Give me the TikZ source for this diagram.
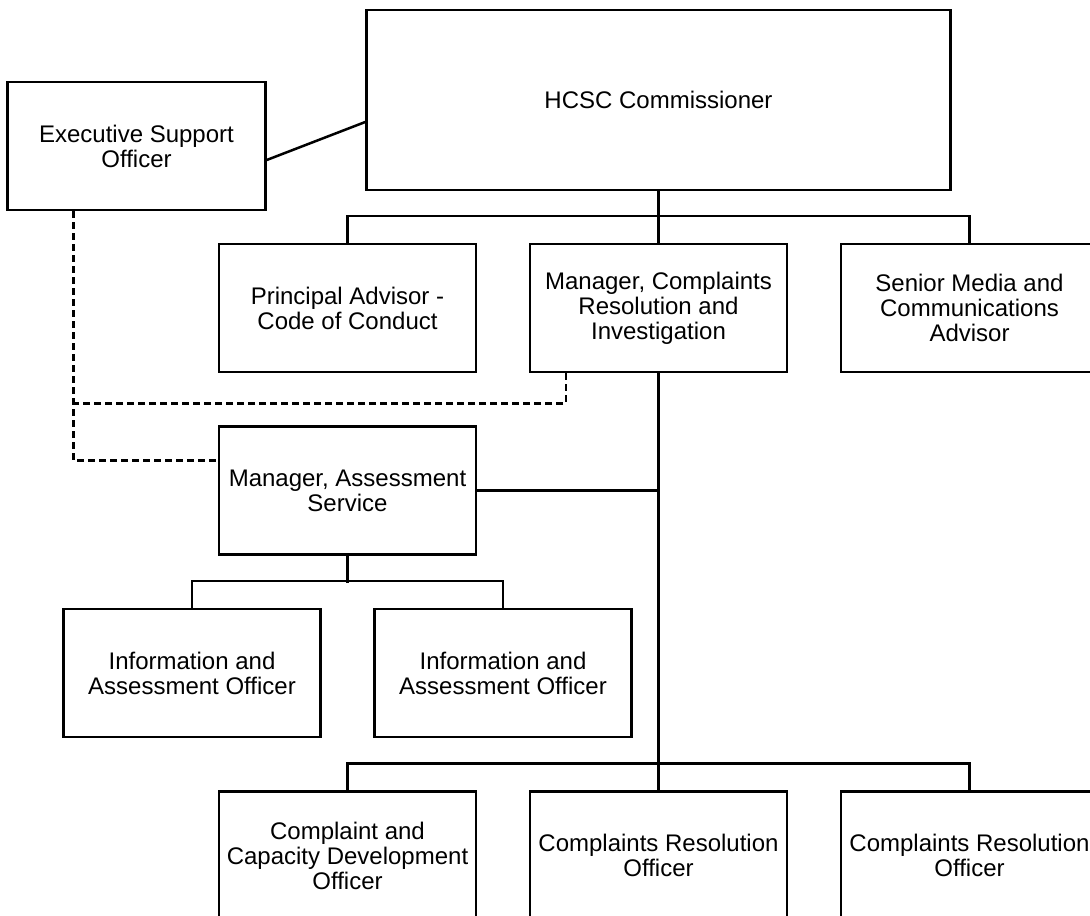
\documentclass[tikz,border=0pt]{standalone}
\usepackage{fontspec}
\setmainfont{Liberation Sans}
\usepackage{tikz}
\usetikzlibrary{positioning}
\tikzset{
    node distance=91.25pt and 155.5pt, % Centre to centre distance between two boxes
    on grid,
    post/.style={ % Sets the properties for each box
        draw,
        line width=1.25pt,
        minimum width=128.5pt,
        minimum height=64pt,
        inner sep=0pt,
        align=center,
        font=\fontsize{12}{12.5}\selectfont
    },
    dashline/.style={dash pattern=on 3.5pt off 2pt}
}

\begin{document}
\begin{tikzpicture}[x=0.5pt,y=-0.5pt,line width=1.25pt]
    \useasboundingbox (0,0) rectangle (1090,915);
    \clip (0,0) rectangle (1090,915);

    \node[post] (mcri) at (658.5,308) {Manager, Complaints\\Resolution and\\Investigation};
    \node[post, above=104pt of mcri, minimum width=292pt, minimum height=90pt] (comm) {HCSC Commissioner};
    \node[post, below left=23pt and 261pt of comm, minimum width=129pt] (eso) {Executive Support\\Officer};
    \node[post, left=of mcri] (pa) {Principal Advisor -\\Code of Conduct};
    \node[post, right=of mcri] (smca) {Senior Media and\\Communications\\Advisor};
    \node[post, below=of pa] (mas) {Manager, Assessment\\Service};
    \node[post, below left=91.25pt and 77.75pt of mas] (iao1) {Information and\\Assessment Officer};
    \node[post, below right=91.25pt and 77.75pt of mas] (iao2) {Information and\\Assessment Officer};
    \node[post, below=182.5pt of mas] (ccdo) {Complaint and\\Capacity Development\\Officer};
    \node[post, right=of ccdo] (cro1) {Complaints Resolution\\Officer};
    \node[post, right=of cro1] (cro2) {Complaints Resolution\\Officer};

    % solid reporting lines
    \draw ([yshift=-7pt]eso.east) -- ([yshift=-11pt]comm.west);
    \draw (comm.south) -- (mcri.north);
    \draw (pa.north) -- ++(0pt,13.5pt) -| (smca.north);
    \draw (mcri.south) -- (cro1.north);
    \draw (mas.east) -- (mas.east -| mcri.south);
    \draw (mas.south) -- ++(0pt,-13.5pt);
    \draw (iao1.north) -- ++(0pt,13.5pt) -| (iao2.north);
    \draw (ccdo.north) -- ++(0pt,13.5pt) -| (cro2.north);

    % dashed lines
    \coordinate (eso foot) at ([xshift=-31.5pt]eso.south);
    \draw[dashline] (eso foot) |- ([yshift=15pt]mas.west);
    \draw[dashline] ([xshift=-46.25pt]mcri.south) -- ++(0pt,-15pt) coordinate (mcri foot) -- (mcri foot -| eso foot);
\end{tikzpicture}
\end{document}
